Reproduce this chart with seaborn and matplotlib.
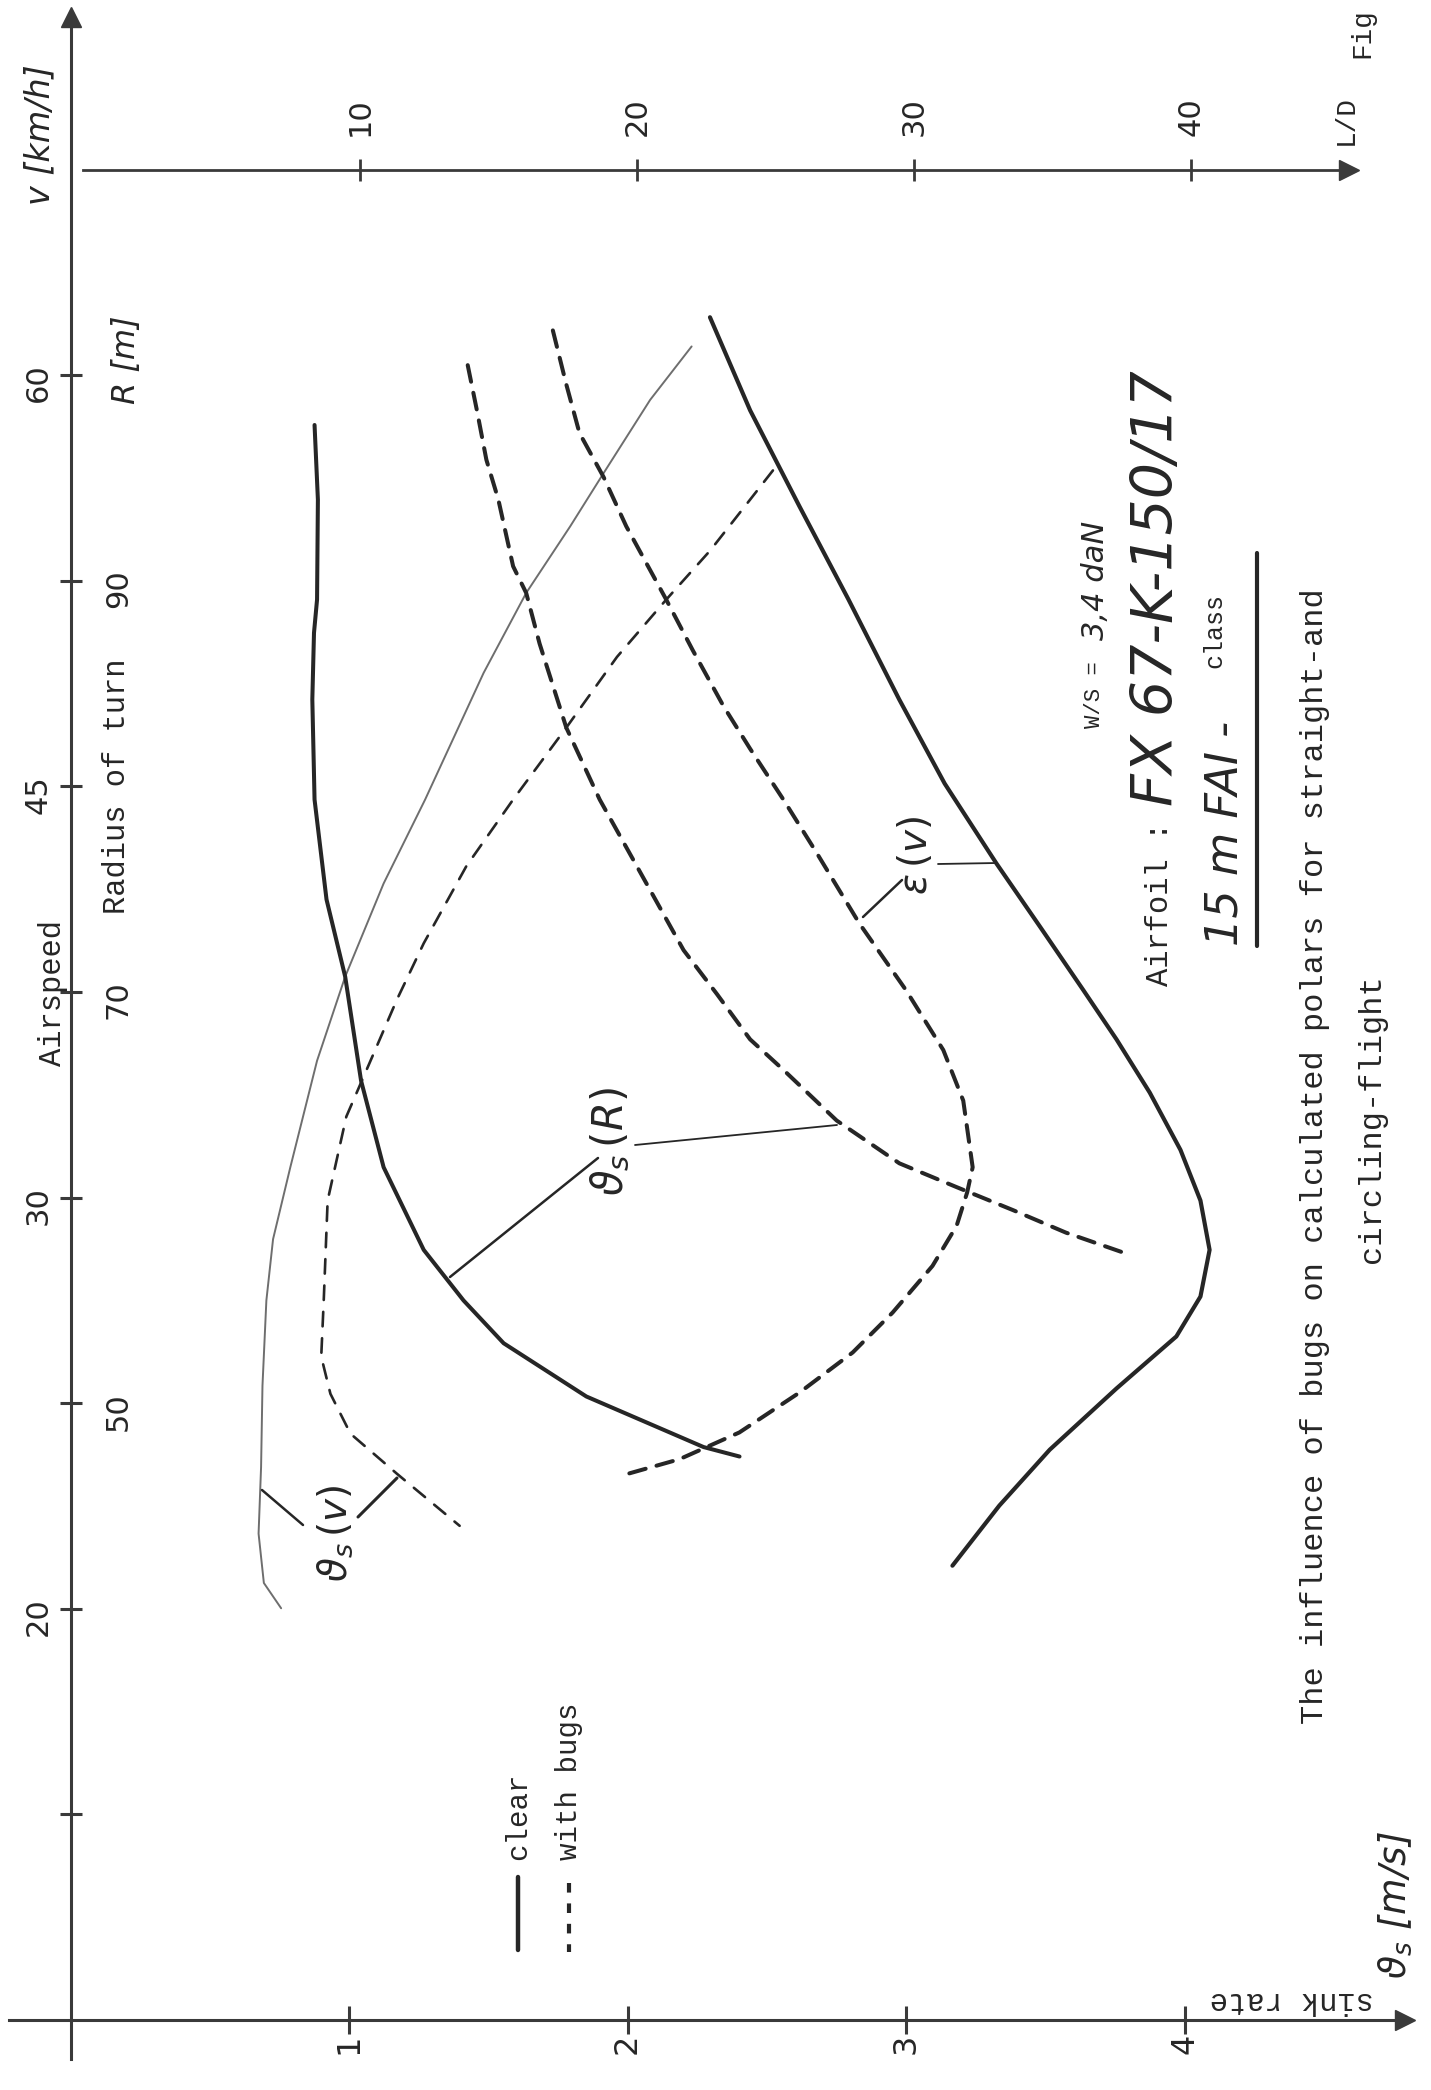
import numpy as np
import pandas as pd
import matplotlib
matplotlib.use("Agg")
import matplotlib.pyplot as plt
from matplotlib.lines import Line2D
import seaborn as sns

# ------------------------------------------------------------------ data
# vertical positions are given in tick units of the speed/radius axis
# (0 = sink-rate axis, 9 = L/D axis)
pos_ticks = [1, 2, 3, 4, 5, 6, 7, 8]
airspeed_tick_pos = [2, 4, 6, 8]
airspeed_tick_labels = ["20", "30", "45", "60"]
radius_tick_pos = [3, 5, 7]
radius_tick_labels = ["50", "70", "90"]
sink_ticks = [1, 2, 3, 4]
sink_tick_labels = ["1", "2", "3", "4"]
ld_ticks = [10, 20, 30, 40]
ld_tick_labels = ["10", "20", "30", "40"]

# v_s(v) clear (thin solid)
vsv_clear_sink = [2.230, 2.081, 1.914, 1.794, 1.636, 1.483, 1.273, 1.124, 0.986, 0.885,
                  0.789, 0.727, 0.703, 0.689, 0.684, 0.675, 0.694, 0.756]
vsv_clear_pos = [8.140, 7.880, 7.524, 7.265, 6.941, 6.552, 5.936, 5.528, 5.075, 4.666,
                 4.148, 3.798, 3.500, 3.085, 2.690, 2.366, 2.126, 2.003]
# v_s(v) with bugs (thin dashed)
vsv_bugs_sink = [2.522, 2.440, 2.297, 2.139, 1.962, 1.780, 1.589, 1.421, 1.268, 1.172,
                 1.077, 0.990, 0.923, 0.909, 0.900, 0.933, 1.005, 1.172, 1.397]
vsv_bugs_pos = [7.537, 7.395, 7.148, 6.909, 6.630, 6.286, 5.936, 5.612, 5.237, 4.964,
                4.666, 4.394, 3.986, 3.500, 3.227, 3.046, 2.852, 2.657, 2.404]
# v_s(R) clear (thick solid)
vsR_clear_sink = [0.876, 0.888, 0.885, 0.874, 0.868, 0.876, 0.919, 0.986, 1.043, 1.124,
                  1.268, 1.411, 1.555, 1.852, 2.273, 2.402]
vsR_clear_pos = [7.758, 7.395, 6.909, 6.747, 6.423, 5.936, 5.450, 5.075, 4.569, 4.148,
                 3.746, 3.500, 3.292, 3.033, 2.787, 2.741]
# v_s(R) with bugs (thick dashed)
vsR_bugs_sink = [1.426, 1.459, 1.493, 1.536, 1.589, 1.636, 1.684, 1.780, 1.900, 2.081,
                 2.201, 2.321, 2.440, 2.560, 2.751, 2.976, 3.182, 3.383, 3.574, 3.780]
vsR_bugs_pos = [8.049, 7.829, 7.589, 7.395, 7.071, 6.941, 6.695, 6.286, 5.936, 5.496,
                5.204, 4.990, 4.770, 4.621, 4.375, 4.167, 4.051, 3.940, 3.830, 3.733]
# eps(v) = L/D clear (thick solid)
eps_clear_ld = [22.64, 24.09, 25.87, 27.64, 29.47, 31.11, 32.98, 34.57, 36.11, 37.31,
                38.51, 39.62, 40.34, 40.67, 40.34, 39.47, 37.31, 34.90, 33.08, 31.39]
eps_clear_pos = [8.282, 7.829, 7.362, 6.909, 6.423, 6.014, 5.625, 5.314, 5.010, 4.770,
                 4.511, 4.232, 3.986, 3.746, 3.519, 3.325, 3.072, 2.774, 2.502, 2.210]
# eps(v) with bugs (thick dashed)
eps_bugs_ld = [16.97, 17.45, 17.93, 18.80, 19.62, 21.06, 22.02, 23.13, 24.09, 25.29,
               26.49, 28.03, 29.71, 31.06, 31.78, 32.12, 31.92, 31.54, 30.67, 29.23,
               27.79, 25.87, 23.70, 21.54, 19.52]
eps_bugs_pos = [8.218, 7.958, 7.719, 7.505, 7.265, 6.909, 6.662, 6.390, 6.183, 5.936,
                5.677, 5.334, 5.010, 4.718, 4.472, 4.148, 4.025, 3.863, 3.668, 3.441,
                3.247, 3.052, 2.858, 2.728, 2.651]

# ------------------------------------------------------------------ style
sns.set_theme(style="white")
plt.rcParams["font.family"] = ["DejaVu Sans"]
plt.rcParams["mathtext.fontset"] = "dejavusans"

INK = "#262626"
AXC = "#3a3a3a"
GREY = "#6e6e6e"
MONO = "Liberation Mono"
HAND = "DejaVu Sans"

W, H = 1431, 2090
fig = plt.figure(figsize=(W / 100, H / 100), dpi=100)
fig.patch.set_facecolor("white")
ax = fig.add_axes([0, 0, 1, 1])
ax2 = ax.twiny()   # L/D scale (top axis)
ax3 = ax.twinx()   # radius-of-turn labels


def curve(axis, xs, ys, lw, ls, color):
    df = pd.DataFrame({"x": xs, "y": ys})
    sns.lineplot(data=df, x="x", y="y", ax=axis, sort=False, estimator=None,
                 color=color, linewidth=lw, linestyle=ls, legend=False,
                 solid_capstyle="round", dash_capstyle="round",
                 solid_joinstyle="round")


curve(ax, vsv_clear_sink, vsv_clear_pos, 1.4, "-", GREY)
curve(ax, vsv_bugs_sink, vsv_bugs_pos, 1.9, (0, (5.5, 4.5)), INK)
curve(ax, vsR_clear_sink, vsR_clear_pos, 2.9, "-", INK)
curve(ax, vsR_bugs_sink, vsR_bugs_pos, 2.9, (0, (4.2, 2.8)), INK)
curve(ax2, eps_clear_ld, eps_clear_pos, 3.0, "-", INK)
curve(ax2, eps_bugs_ld, eps_bugs_pos, 2.9, (0, (4.2, 2.8)), INK)

YLIM = (-0.340, 9.825)
ax.set_xlim(-0.2535, 4.885)
ax.set_ylim(*YLIM)
ax2.set_xlim(-2.981, 48.66)
ax3.set_ylim(*YLIM)
for a in (ax, ax2, ax3):
    a.set_xlabel("")
    a.set_ylabel("")
    a.patch.set_visible(False)
    a.grid(False)

# ---- main axes: spines as the drawn axes
for s in ("top", "right"):
    ax.spines[s].set_visible(False)
ax.spines["left"].set_position(("data", 0))
ax.spines["left"].set_bounds(-0.19, 9.70)
ax.spines["bottom"].set_position(("data", 0))
ax.spines["bottom"].set_bounds(-0.22, 4.76)
for s in ("left", "bottom"):
    ax.spines[s].set_color(AXC)
    ax.spines[s].set_linewidth(2.2)

ax.set_yticks(pos_ticks)
ax.set_yticklabels([airspeed_tick_labels[airspeed_tick_pos.index(p)]
                    if p in airspeed_tick_pos else "" for p in pos_ticks])
ax.tick_params(axis="y", direction="inout", length=16, width=2.2, color=AXC,
               labelrotation=90, labelsize=22, labelcolor=INK, pad=5, left=True)
ax.set_xticks(sink_ticks)
ax.set_xticklabels(sink_tick_labels)
ax.tick_params(axis="x", direction="inout", length=20, width=2.2, color=AXC,
               labelrotation=90, labelsize=23, labelcolor=INK, pad=0, bottom=True)

# arrow heads
ax.plot([0], [9.74], marker="^", ms=15, color=AXC, clip_on=False)
ax.plot([4.79], [0], marker=">", ms=15, color=AXC, clip_on=False)

# ---- L/D axis (top)
for s in ("bottom", "left", "right"):
    ax2.spines[s].set_visible(False)
ax2.spines["top"].set_position(("data", 9.0))
ax2.spines["top"].set_bounds(0, 45.4)
ax2.spines["top"].set_color(AXC)
ax2.spines["top"].set_linewidth(2.0)
ax2.xaxis.set_ticks_position("top")
ax2.set_xticks(ld_ticks)
ax2.set_xticklabels(ld_tick_labels)
ax2.tick_params(axis="x", direction="inout", length=16, width=2.0, color=AXC,
                labelrotation=90, labelsize=22, labelcolor=INK, pad=16, top=True)
ax2.tick_params(axis="y", left=False, right=False, labelleft=False, labelright=False)
ax2.plot([45.7], [9.0], marker=">", ms=14, color=AXC, clip_on=False)

# ---- radius labels (right of the vertical axis)
for s in ("bottom", "left", "top"):
    ax3.spines[s].set_visible(False)
ax3.spines["right"].set_position(("data", 0))
ax3.spines["right"].set_visible(False)
ax3.set_yticks(radius_tick_pos)
ax3.set_yticklabels(radius_tick_labels)
ax3.tick_params(axis="y", length=0, labelrotation=90, labelsize=22, labelcolor=INK,
                pad=24, right=True, labelright=True, left=False, labelleft=False)
ax3.tick_params(axis="x", bottom=False, top=False, labelbottom=False, labeltop=False)


# ------------------------------------------------------------------ annotations
def ftext(x, y, s, **kw):
    kw.setdefault("ha", "center")
    kw.setdefault("va", "center")
    kw.setdefault("color", INK)
    kw.setdefault("rotation", 90)
    fig.text(x / W, 1 - y / H, s, **kw)


def fline(xs, ys, **kw):
    kw.setdefault("color", INK)
    fig.add_artist(Line2D([x / W for x in xs], [1 - y / H for y in ys],
                          transform=fig.transFigure, **kw))


# axis titles
ftext(40, 135, "v [km/h]", family=HAND, fontsize=24, style="italic")
ftext(127, 360, "R [m]", family=HAND, fontsize=23, style="italic")
ftext(53, 993, "Airspeed", family=MONO, fontsize=22)
ftext(117, 786, "Radius of turn", family=MONO, fontsize=22)
ftext(1292, 2000, "sink rate", family=MONO, fontsize=22, rotation=180)
ftext(1395, 1905, r"$\vartheta_s$ [m/s]", family=HAND, fontsize=27, style="italic")
ftext(1346, 120, "L/D", family=MONO, fontsize=20)
ftext(1362, 58, "Fig", family=MONO, fontsize=20, va="bottom")

# legend
fline([518, 518], [1877, 1950], lw=3.2, solid_capstyle="round")
fline([569, 569], [1883, 1952], lw=3.0, linestyle=(0, (2.3, 2.6)))
ftext(518, 1860, "clear", family=MONO, fontsize=21, va="bottom")
ftext(569, 1860, "with bugs", family=MONO, fontsize=21, va="bottom")

# description block
ftext(1095, 728, "W/S =", family=MONO, fontsize=16, va="bottom")
ftext(1095, 640, "3,4 daN", family=HAND, fontsize=22, style="italic", va="bottom")
ftext(1160, 986, "Airfoil :", family=MONO, fontsize=22, va="bottom")
ftext(1157, 806, "FX 67-K-150/17", family=HAND, fontsize=41, style="italic", va="bottom")
ftext(1225, 946, "15 m FAI -", family=HAND, fontsize=32, style="italic", va="bottom")
ftext(1214, 668, "class", family=MONO, fontsize=18, va="bottom")
fline([1257, 1257], [553, 946], lw=3.0)
ftext(1315, 1156, "The influence of bugs on calculated polars for straight-and",
      family=MONO, fontsize=23)
ftext(1372, 1119, "circling-flight", family=MONO, fontsize=23)

# curve labels and leader lines
ftext(610, 1142, r"$\vartheta_s\,(R)$", fontsize=30)
fline([450, 598], [1277, 1158], lw=1.8)
fline([635, 837], [1145, 1125], lw=1.3)
ftext(916, 855, r"$\varepsilon\,(v)$", fontsize=28)
fline([938, 997], [864, 863], lw=1.3)
fline([902, 863], [880, 917], lw=1.8)
ftext(335, 1533, r"$\vartheta_s\,(v)$", fontsize=28)
fline([262, 303], [1490, 1525], lw=1.8)
fline([358, 397], [1517, 1478], lw=2.2)

fig.savefig("out.png", dpi=100, facecolor="white")
